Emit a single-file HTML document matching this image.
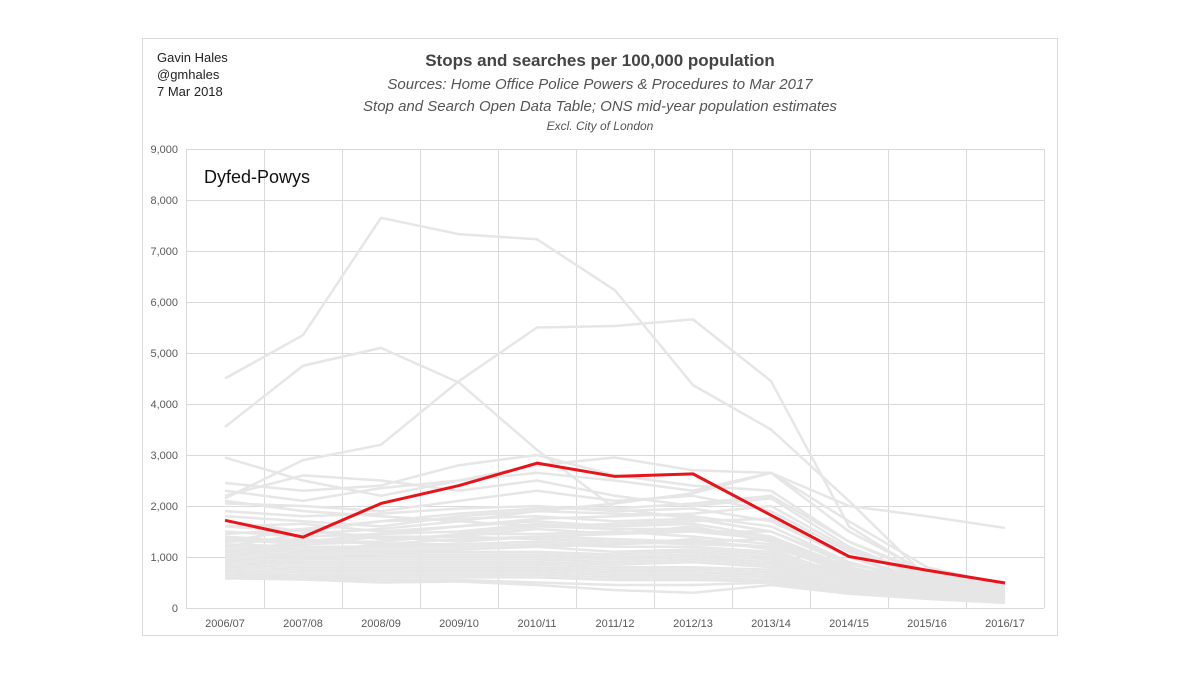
<!DOCTYPE html>
<html><head><meta charset="utf-8"><style>
body{margin:0;background:#fff;width:1200px;height:675px;overflow:hidden;font-family:"Liberation Sans",sans-serif}
svg{position:absolute;left:0;top:0}
</style></head><body>
<svg width="1200" height="675" id="c">
<rect x="142.5" y="38.5" width="915" height="597" fill="#fff" stroke="#d9d9d9"/>
<g font-size="13" fill="#222">
<text x="157" y="62">Gavin Hales</text><text x="157" y="79">@gmhales</text><text x="157" y="96">7 Mar 2018</text></g>
<text x="600" y="66" text-anchor="middle" font-size="17" font-weight="bold" fill="#444">Stops and searches per 100,000 population</text>
<g font-style="italic" fill="#555" text-anchor="middle">
<text x="600" y="89" font-size="15">Sources: Home Office Police Powers &amp; Procedures to Mar 2017</text>
<text x="600" y="111" font-size="15">Stop and Search Open Data Table; ONS mid-year population estimates</text>
<text x="600" y="130" font-size="12">Excl. City of London</text></g>
<g id="grid"></g><g id="grey"></g><g id="red"></g><g id="labels"></g>
<text x="204" y="183" font-size="18" fill="#111">Dyfed-Powys</text>
</svg>
<script>
const categories=["2006/07","2007/08","2008/09","2009/10","2010/11","2011/12","2012/13","2013/14","2014/15","2015/16","2016/17"];
const yTicks=[0,1000,2000,3000,4000,5000,6000,7000,8000,9000];
const highlight=[1720,1390,2050,2400,2840,2580,2630,1820,1010,740,490];
const greySeries=[
[4500,5350,7650,7330,7230,6230,4370,3500,2100,600,350],
[3550,4750,5100,4420,3100,1950,1750,1500,900,500,300],
[2150,2900,3200,4450,5500,5530,5660,4450,1600,650,400],
[2950,2500,2200,2500,2800,2950,2700,2650,2000,1800,1570],
[2450,2300,2400,2800,3000,2600,2400,2300,1300,700,500],
[2300,2100,2350,2500,2650,2500,2300,2650,1700,800,450],
[2200,2600,2500,2300,2500,2200,2000,2150,1200,600,350],
[2050,2000,1900,2100,2300,2100,2200,1900,1100,650,400],
[1900,1800,1850,1950,2000,1900,1950,1700,1000,550,350],
[1800,1700,1600,1800,1900,1850,1800,1600,900,500,300],
[1700,1500,1700,1750,1800,1700,1750,1500,850,600,400],
[1600,1650,1500,1600,1700,1600,1650,1400,800,500,300],
[1500,1400,1450,1500,1650,1550,1500,1350,750,450,300],
[1450,1550,1350,1400,1550,1450,1600,1300,700,450,250],
[1400,1300,1300,1450,1450,1500,1400,1250,650,400,250],
[1350,1250,1400,1300,1400,1350,1300,1200,700,400,250],
[1300,1350,1250,1250,1300,1250,1350,1150,600,380,230],
[1250,1200,1200,1200,1250,1200,1200,1100,650,350,220],
[1200,1150,1150,1150,1200,1100,1150,1050,600,350,200],
[1150,1100,1100,1100,1100,1050,1100,1000,550,330,200],
[1100,1050,1050,1050,1050,1000,1050,950,550,320,190],
[1050,1000,1000,1000,1000,950,1000,900,500,300,180],
[1000,950,950,950,950,900,950,850,500,300,180],
[950,900,900,900,900,850,900,800,450,280,170],
[900,850,850,850,850,800,800,750,450,270,160],
[850,800,800,800,800,750,750,700,420,260,150],
[800,750,750,750,750,700,700,650,400,250,150],
[750,700,700,700,700,650,650,600,380,240,140],
[700,650,650,650,650,600,600,550,350,230,130],
[650,620,600,600,600,550,550,520,330,220,120],
[600,600,550,550,500,450,450,500,300,200,110],
[580,560,500,520,450,350,300,450,280,180,100],
[1000,1250,1300,1450,1600,1650,1700,1750,1000,500,300],
[900,1100,1250,1350,1400,1450,1500,1500,900,450,280],
[1100,1300,1450,1600,1750,1800,1850,2000,1150,550,330],
[1300,1550,1700,1850,1950,1950,2050,2200,1300,650,380],
[1200,1450,1550,1700,1900,2050,2250,2650,1500,700,420],
[800,950,1050,1150,1200,1250,1300,1350,800,400,240],
[2100,1900,1800,1700,1600,1550,1550,1400,800,450,260],
[1600,1500,1400,1400,1350,1300,1250,1200,700,400,230]
];
const L=186,R=1044,T=149,B=608,ymax=9000;
const step=(R-L)/categories.length;
const x=i=>L+step*(i+0.5);
const y=v=>B-(v/ymax)*(B-T);
const NS="http://www.w3.org/2000/svg";
function mk(tag,attrs,parent){const e=document.createElementNS(NS,tag);for(const k in attrs)e.setAttribute(k,attrs[k]);document.getElementById(parent).appendChild(e);return e;}
yTicks.forEach(v=>{
 const g=mk("line",{x1:L,x2:R,y1:y(v)+0.5,y2:y(v)+0.5,stroke:"#d9d9d9","stroke-width":1},"grid");
 
 
 const t=mk("text",{x:L-8,y:y(v)+4,"text-anchor":"end","font-size":"11",fill:"#595959"},"labels");
 t.textContent=v.toLocaleString("en-GB");
 
 
});
for(let i=0;i<=categories.length;i++){
 const g=mk("line",{x1:L+step*i+0.5,x2:L+step*i+0.5,y1:T,y2:B,stroke:"#d9d9d9","stroke-width":1},"grid");
 
 
}
categories.forEach((c,i)=>{
 const t=mk("text",{x:x(i),y:B+19,"text-anchor":"middle","font-size":"11",fill:"#595959"},"labels");
 t.textContent=c;
 
 
});
const pts=s=>s.map((v,i)=>x(i)+","+y(v)).join(" ");
greySeries.forEach(s=>{
 const p=mk("polyline",{points:pts(s),fill:"none",stroke:"#e6e6e6","stroke-width":2.5,"stroke-linejoin":"round"},"grey");
 
 
});
const r=mk("polyline",{points:pts(highlight),fill:"none",stroke:"#e8141b","stroke-width":3,"stroke-linejoin":"round"},"red");


</script>
</body></html>
